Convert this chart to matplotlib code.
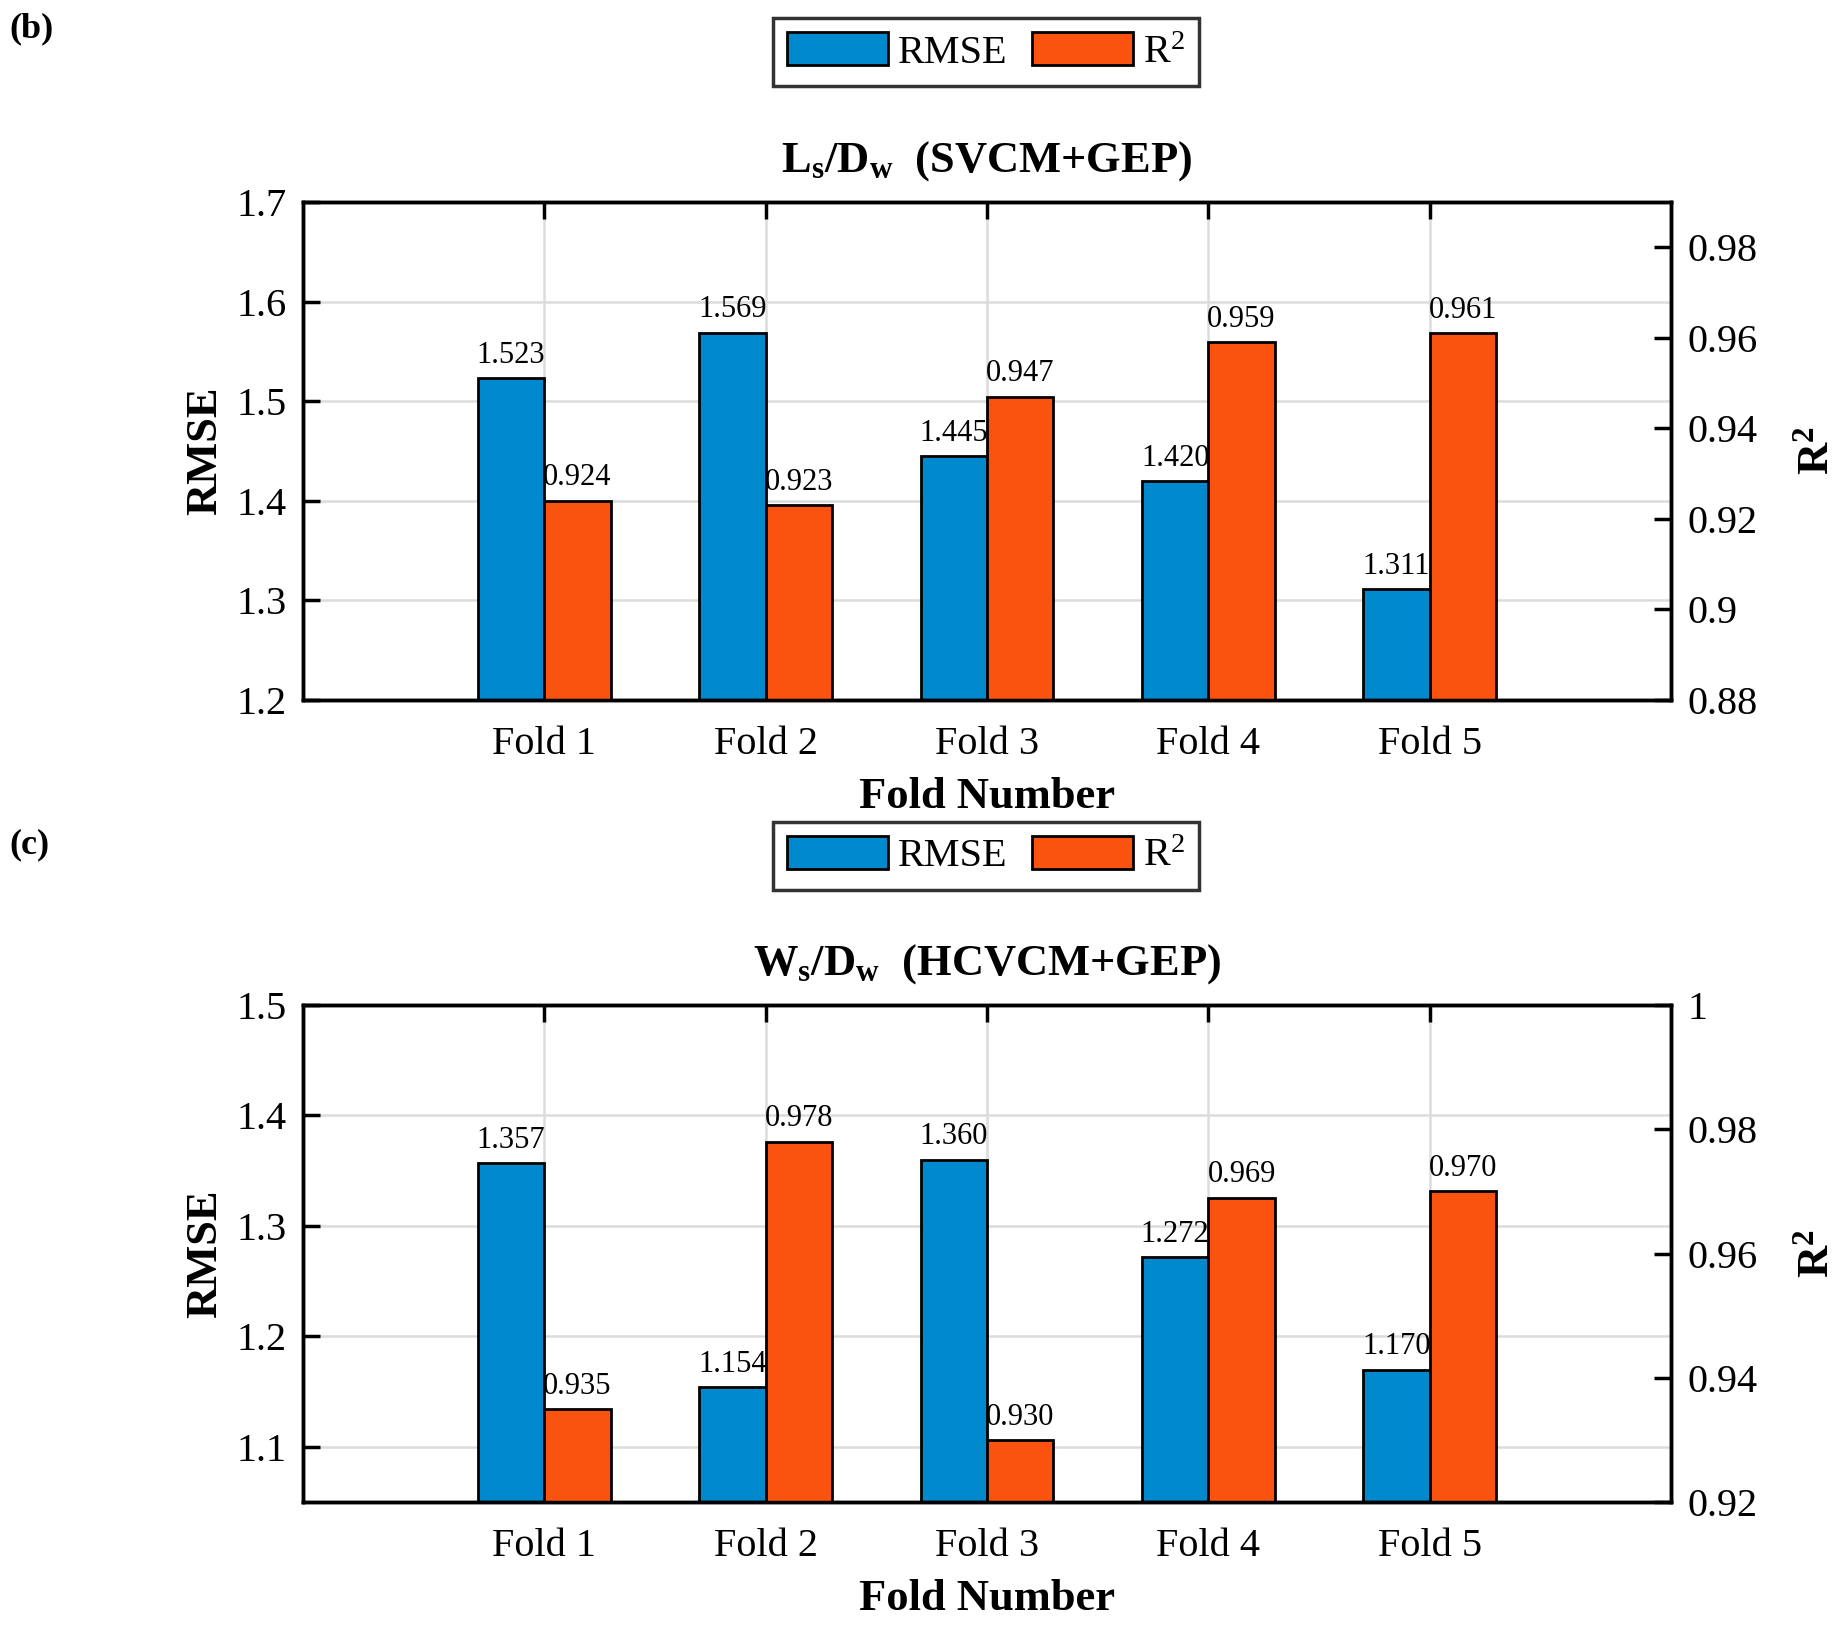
import numpy as np
import matplotlib
matplotlib.use('Agg')
import matplotlib.pyplot as plt
from matplotlib.patches import Patch

plt.rcParams['font.family'] = ['Liberation Serif', 'DejaVu Serif']
plt.rcParams['mathtext.fontset'] = 'custom'
plt.rcParams['mathtext.rm'] = 'Liberation Serif'
plt.rcParams['mathtext.it'] = 'Liberation Serif:italic'
plt.rcParams['mathtext.bf'] = 'Liberation Serif:bold'

folds = ['Fold 1', 'Fold 2', 'Fold 3', 'Fold 4', 'Fold 5']

# panel (b): Ls/Dw (SVCM+GEP)
rmse_b = [1.523, 1.569, 1.445, 1.420, 1.311]
r2_b = [0.924, 0.923, 0.947, 0.959, 0.961]
rmse_ticks_b = [1.2, 1.3, 1.4, 1.5, 1.6, 1.7]
rmse_labels_b = ['1.2', '1.3', '1.4', '1.5', '1.6', '1.7']
r2_ticks_b = [0.88, 0.90, 0.92, 0.94, 0.96, 0.98]
r2_labels_b = ['0.88', '0.9', '0.92', '0.94', '0.96', '0.98']

# panel (c): Ws/Dw (HCVCM+GEP)
rmse_c = [1.357, 1.154, 1.360, 1.272, 1.170]
r2_c = [0.935, 0.978, 0.930, 0.969, 0.970]
rmse_ticks_c = [1.1, 1.2, 1.3, 1.4, 1.5]
rmse_labels_c = ['1.1', '1.2', '1.3', '1.4', '1.5']
r2_ticks_c = [0.92, 0.94, 0.96, 0.98, 1.0]
r2_labels_c = ['0.92', '0.94', '0.96', '0.98', '1']

blue = '#0089cd'
orange = '#f9530f'
W = 0.3
FS = 29


def draw_panel(ax, rmse, r2, title, ylim1, ticks1, labels1, ylim2, ticks2, labels2):
    x = np.arange(1, len(folds) + 1)
    ax2 = ax.twinx()

    b1 = ax.bar(x - W / 2, rmse, W, color=blue, edgecolor='black', linewidth=2, zorder=2)
    b2 = ax2.bar(x + W / 2, r2, W, color=orange, edgecolor='black', linewidth=2, zorder=2)

    ax.set_xlim(-0.09, 6.09)
    ax.set_ylim(*ylim1)
    ax2.set_ylim(*ylim2)
    ax.set_xticks(x)
    ax.set_xticklabels(folds, fontsize=FS)
    ax.set_yticks(ticks1)
    ax.set_yticklabels(labels1, fontsize=FS)
    ax2.set_yticks(ticks2)
    ax2.set_yticklabels(labels2, fontsize=FS)

    ax.set_axisbelow(True)
    ax.grid(True, color='#dcdcdc', linewidth=1.8)

    ax.tick_params(axis='x', direction='in', top=True, bottom=False, length=12, width=2.5, pad=19)
    ax.tick_params(axis='y', direction='in', length=12, width=2.5, pad=12)
    ax2.tick_params(axis='y', direction='in', length=12, width=2.5, pad=12)
    for a in (ax, ax2):
        for s in a.spines.values():
            s.set_linewidth(2.5)

    for rect, v in zip(b1, rmse):
        ax.annotate(f'{v:.3f}', (rect.get_x() + rect.get_width() / 2, v),
                    xytext=(0, 6), textcoords='offset points',
                    ha='center', va='bottom', fontsize=22)
    for rect, v in zip(b2, r2):
        ax2.annotate(f'{v:.3f}', (rect.get_x() + rect.get_width() / 2, v),
                     xytext=(0, 6), textcoords='offset points',
                     ha='center', va='bottom', fontsize=22)

    ax.set_ylabel('RMSE', fontsize=32, fontweight='bold', labelpad=8)
    ax2.set_ylabel(r'$\mathbf{R^2}$', fontsize=32, labelpad=28)
    ax.set_xlabel('Fold Number', fontsize=32, fontweight='bold', labelpad=10)
    ax.set_title(title, fontsize=32, fontweight='bold', pad=22)
    return ax2


fig = plt.figure(figsize=(18.43, 16.27), dpi=100)

ax_b = fig.add_axes([0.1644, 0.5698, 0.7423, 0.3060])
draw_panel(ax_b, rmse_b, r2_b, r'$\mathbf{L_s/D_w}$  (SVCM+GEP)',
           (1.2, 1.7), rmse_ticks_b, rmse_labels_b, (0.88, 0.99), r2_ticks_b, r2_labels_b)

ax_c = fig.add_axes([0.1644, 0.0768, 0.7423, 0.3055])
draw_panel(ax_c, rmse_c, r2_c, r'$\mathbf{W_s/D_w}$  (HCVCM+GEP)',
           (1.05, 1.5), rmse_ticks_c, rmse_labels_c, (0.92, 1.0), r2_ticks_c, r2_labels_c)

handles = [Patch(facecolor=blue, edgecolor='black', linewidth=2, label='RMSE'),
           Patch(facecolor=orange, edgecolor='black', linewidth=2, label=r'R$^2$')]
for yc in (0.968, 0.474):
    leg = fig.legend(handles=handles, loc='center', bbox_to_anchor=(0.535, yc), ncol=2,
                     fontsize=FS, frameon=True, fancybox=False, edgecolor='black',
                     handlelength=2.5, handleheight=0.87, handletextpad=0.25,
                     columnspacing=0.6, borderpad=0.35, borderaxespad=0)
    leg.get_frame().set_linewidth(2.5)

fig.text(0.005, 0.982, '(b)', fontsize=26, fontweight='bold', va='center')
fig.text(0.005, 0.481, '(c)', fontsize=26, fontweight='bold', va='center')

fig.savefig('out.png', dpi=100)
